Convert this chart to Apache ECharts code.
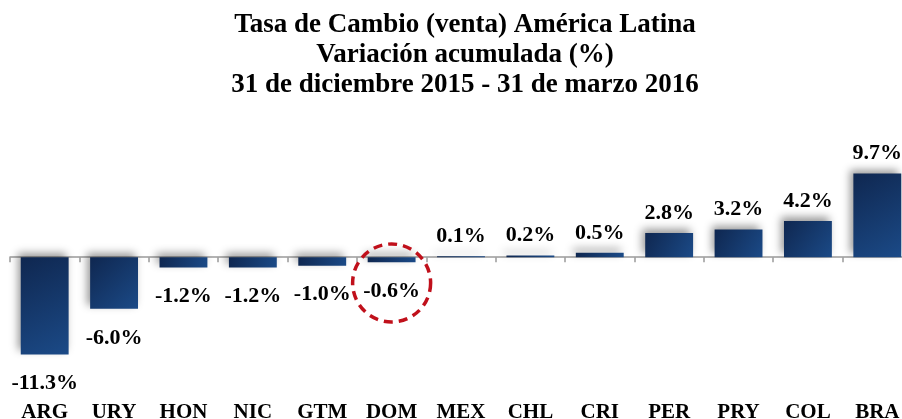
<!DOCTYPE html>
<html>
<head>
<meta charset="utf-8">
<script src="https://cdn.jsdelivr.net/npm/echarts@6/dist/echarts.min.js"></script>
<style>
  html, body { margin: 0; padding: 0; background: #fff; }
  #chart { width: 902px; height: 419px; }
</style>
</head>
<body>
<div id="chart"></div>
<script>
const categories = ['ARG', 'URY', 'HON', 'NIC', 'GTM', 'DOM', 'MEX', 'CHL', 'CRI', 'PER', 'PRY', 'COL', 'BRA']
const variation = [-11.3, -6.0, -1.2, -1.2, -1.0, -0.6, 0.1, 0.2, 0.5, 2.8, 3.2, 4.2, 9.7]
const titleLines = [
  'Tasa de Cambio (venta) América Latina',
  'Variación acumulada (%)',
  '31 de diciembre 2015 - 31 de marzo 2016',
]
// circled highlight: category and the value where the circle centre sits
const highlight = ['DOM', -3.0]

const FONT = '"Liberation Serif", "Times New Roman", serif'

const barColor = new echarts.graphic.LinearGradient(0, 0, 1, 1, [
  { offset: 0, color: '#0f2750' },
  { offset: 1, color: '#1b4a87' },
])

const chart = echarts.init(document.getElementById('chart'))

chart.setOption({
  animation: false,
  backgroundColor: '#fff',
  title: {
    text: titleLines.join('\n'),
    left: 460,
    textAlign: 'center',
    top: 5,
    textStyle: {
      fontFamily: FONT,
      fontWeight: 'bold',
      fontSize: 27,
      lineHeight: 30,
      color: '#000',
    },
  },
  // plot runs a little past the right edge, like the original
  grid: { left: 10, width: 902, top: 171, bottom: 58.5, outerBoundsMode: 'none', containLabel: false },
  xAxis: [
    {
      type: 'category',
      data: categories,
      position: 'bottom',
      axisLine: { show: false, onZero: false },
      axisTick: { show: false },
      axisLabel: {
        margin: 42,
        fontFamily: FONT,
        fontWeight: 'bold',
        fontSize: 21,
        color: '#000',
      },
    },
    {
      type: 'category',
      data: categories,
      position: 'top',
      axisLine: { show: true, onZero: true, lineStyle: { color: '#9a9a9a', width: 1.5 } },
      axisTick: { show: true, inside: true, length: 5, lineStyle: { color: '#9a9a9a', width: 1.5 } },
      axisLabel: { show: false },
    },
  ],
  yAxis: {
    type: 'value',
    min: -12,
    max: 10,
    show: false,
    splitLine: { show: false },
  },
  series: [
    {
      type: 'bar',
      xAxisIndex: 0,
      barWidth: '69%',
      data: variation.map(v => ({
        value: v,
        label: {
          position: v < 0 ? 'bottom' : 'top',
          distance: v < 0 ? 18 : 9,
        },
      })),
      itemStyle: {
        color: barColor,
        shadowColor: 'rgba(0,0,0,0.4)',
        shadowBlur: 8,
        shadowOffsetX: -3,
        shadowOffsetY: -4,
      },
      label: {
        show: true,
        formatter: p => p.value.toFixed(1) + '%',
        fontFamily: FONT,
        fontWeight: 'bold',
        fontSize: 22,
        color: '#000',
      },
      markPoint: {
        silent: true,
        symbol: 'circle',
        symbolSize: 78,
        label: { show: false },
        itemStyle: {
          color: 'rgba(0,0,0,0)',
          borderColor: '#c0101b',
          borderWidth: 3.5,
          borderType: [9, 6],
          shadowBlur: 0,
          shadowOffsetX: 0,
          shadowOffsetY: 0,
        },
        data: [{ coord: highlight }],
      },
    },
  ],
})
</script>
</body>
</html>
